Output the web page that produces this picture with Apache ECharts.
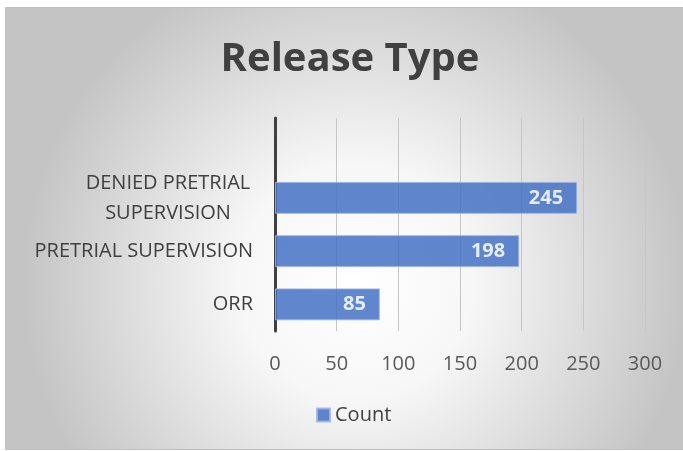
<!DOCTYPE html>
<html>
<head>
<meta charset="utf-8">
<script src="https://cdn.jsdelivr.net/npm/echarts@6/dist/echarts.min.js"></script>
<style>
  html, body { margin: 0; padding: 0; background: #fff; overflow: hidden; }
  #chart { width: 700px; height: 451px; }
</style>
</head>
<body>
<div id="chart"></div>
<script>
// categories bottom -> top, last one is the empty slot Excel left at the top
const categories = ['ORR', 'PRETRIAL SUPERVISION', 'DENIED PRETRIAL SUPERVISION', '']
const counts = [85, 198, 245, null]
const xTicks = { min: 0, max: 300, interval: 50 }

const font = '"Open Sans", sans-serif'

// chart frame runs past the right edge of the window, like the cropped original
echarts.init(document.getElementById('chart')).setOption({
	animation: false,
	graphic: [{
		type: 'rect',
		z: -10,
		shape: { x: 5.5, y: 7.5, width: 700, height: 442 },
		style: {
			fill: {
				type: 'radial', x: 0.5, y: 0.62, r: 0.75,
				colorStops: [
					{ offset: 0, color: '#ffffff' },
					{ offset: 0.35, color: '#f7f7f7' },
					{ offset: 1, color: '#c4c4c4' }
				]
			},
			stroke: '#bfbfbf',
			lineWidth: 1
		}
	}],
	title: {
		text: 'Release Type',
		left: 'center',
		top: 35,
		textStyle: { fontFamily: font, fontSize: 40, fontWeight: 'bold', color: '#404040' }
	},
	grid: { left: 275, right: 55, top: 118, bottom: 120 },
	legend: {
		bottom: 21,
		left: 311,
		icon: 'rect',
		itemWidth: 13,
		itemHeight: 13,
		itemGap: 5,
		textStyle: { fontFamily: font, fontSize: 20, color: '#404040' },
		data: ['Count']
	},
	xAxis: {
		type: 'value',
		min: xTicks.min,
		max: xTicks.max,
		interval: xTicks.interval,
		axisLine: { show: false },
		axisTick: { show: false },
		splitLine: { lineStyle: { color: '#c6c6c6', width: 1 } },
		axisLabel: { margin: 23, fontFamily: font, fontSize: 20, color: '#595959' }
	},
	yAxis: {
		type: 'category',
		data: categories,
		axisTick: { show: false },
		axisLine: { lineStyle: { color: '#404040', width: 3 } },
		axisLabel: {
			margin: 22,
			fontFamily: font,
			fontSize: 20,
			color: '#404040',
			formatter: v => v === 'DENIED PRETRIAL SUPERVISION'
				? '{c|DENIED PRETRIAL}\n{c|SUPERVISION}'
				: v,
			rich: { c: { width: 170, align: 'center', fontFamily: font, fontSize: 20, color: '#404040', lineHeight: 30 } }
		}
	},
	series: [{
		type: 'bar',
		name: 'Count',
		barWidth: '60%',
		itemStyle: { color: '#4472c4', opacity: 0.85, borderColor: '#9db5e0', borderWidth: 1 },
		label: {
			show: true,
			position: 'insideRight',
			distance: 14,
			fontFamily: font,
			fontSize: 20,
			fontWeight: 'bold',
			color: '#fff'
		},
		data: counts
	}]
})
</script>
</body>
</html>
